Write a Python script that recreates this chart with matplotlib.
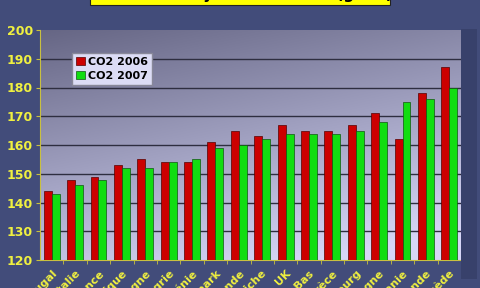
import matplotlib.pyplot as plt
import numpy as np
from matplotlib.patches import Rectangle

countries = ["Portugal", "Italie", "France", "Belgique", "Espagne", "Hongrie",
             "Slovénie", "Danemark", "Finlande", "Autriche", "UK", "Pays-Bas",
             "Grèce", "Luxembourg", "Allemagne", "Lituanie", "Irlande", "Suède"]
co2_2006 = [144, 148, 149, 153, 155, 154, 154, 161, 165, 163, 167, 165,
            165, 167, 171, 162, 178, 187]
co2_2007 = [143, 146, 148, 152, 152, 154, 155, 159, 160, 162, 164, 164,
            164, 165, 168, 175, 176, 180]
yticks = [120, 130, 140, 150, 160, 170, 180, 190, 200]

fig = plt.figure(figsize=(4.8, 2.88), dpi=100)
fig.patch.set_facecolor("#424c7a")

# right side wall of the chart
fig.patches.append(Rectangle((461 / 480, 0.03), 16 / 480, 0.87, transform=fig.transFigure,
                             facecolor="#38416b", edgecolor="none", zorder=0))

# title box, mostly outside the picture
fig.patches.append(Rectangle((90 / 480, 1 - 5 / 288), 300 / 480, 0.1, transform=fig.transFigure,
                             facecolor="#ffff00", edgecolor="#222222", lw=0.8, zorder=2))
fig.text(0.5, 1 + 1.0 / 288, "Emissions moyennes de CO2 (g/km)", ha="center", va="baseline",
         fontsize=11, fontweight="bold", color="black", zorder=3)

ax = fig.add_axes([40 / 480, 28 / 288, 421 / 480, 230 / 288])
x = np.arange(len(countries))
ax.set_xlim(-0.5, len(countries) - 0.5)
ax.set_ylim(120, 200)

# gradient wall: dark at the top, light towards the bottom right
gy, gx = np.mgrid[0:1:200j, 0:1:200j]
t = np.clip(0.8 * gy + 0.3 * gx, 0, 1)
top = np.array([0.40, 0.40, 0.52])
bot = np.array([0.84, 0.84, 0.97])
img = top + (bot - top) * t[..., None]
ax.imshow(img, extent=[-0.5, len(countries) - 0.5, 120, 200], aspect="auto", zorder=0,
          origin="upper")

for yv in yticks[1:-1]:
    ax.axhline(yv, color="#2e2e40", lw=1.0, zorder=1)

w = 0.34
ax.bar(x - w / 2, np.array(co2_2006) - 120, w, bottom=120, color="#cc0000",
       edgecolor="#550000", lw=0.5, zorder=3, label="CO2 2006")
ax.bar(x + w / 2, np.array(co2_2007) - 120, w, bottom=120, color="#11dd11",
       edgecolor="#115511", lw=0.5, zorder=3, label="CO2 2007")

ax.set_yticks(yticks)
ax.set_yticklabels([str(v) for v in yticks], color="#f0f040", fontsize=9, fontweight="bold")
ax.set_xticks(x)
ax.set_xticklabels(countries, rotation=45, ha="right", rotation_mode="anchor",
                   color="#f0f040", fontsize=8, fontweight="bold")
ax.set_xticks(x + 0.5, minor=True)
ax.tick_params(axis="x", which="major", length=0, pad=6)
ax.tick_params(axis="x", which="minor", length=3, color="#c8c040")
ax.tick_params(axis="y", length=3, color="#c8c040", pad=2)
for side in ["top", "right"]:
    ax.spines[side].set_visible(False)
for side in ["left", "bottom"]:
    ax.spines[side].set_color("#c8c040")

leg = ax.legend(loc="upper left", bbox_to_anchor=(0.076, 0.9), borderaxespad=0,
                prop={"weight": "bold", "size": 8}, frameon=True, fancybox=False,
                handlelength=0.8, handleheight=0.8, handletextpad=0.3,
                borderpad=0.35, labelspacing=0.35)
leg.get_frame().set_facecolor("#dcdcf5")
leg.get_frame().set_edgecolor("#888899")
leg.get_frame().set_alpha(1)

fig.savefig("out.png", dpi=100, facecolor=fig.get_facecolor())
